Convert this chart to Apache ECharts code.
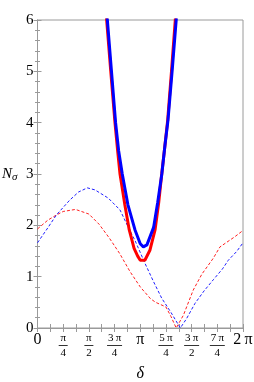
<!DOCTYPE html>
<html><head><meta charset="utf-8">
<script src="https://cdn.jsdelivr.net/npm/echarts@6/dist/echarts.min.js"></script>
<style>html,body{margin:0;padding:0;background:#fff}#c{width:254px;height:382px}</style>
</head><body><div id="c"></div>
<script>
// x values are in units of π (δ/π)
const xTickLabels = ['0', 'π/4', 'π/2', '3\u2009π/4', 'π', '5\u2009π/4', '3\u2009π/2', '7\u2009π/4', '2\u2009π'];
const yTickLabels = ['0', '1', '2', '3', '4', '5', '6'];

const redSolid = [[0.65,6.6],[0.673,6.0],[0.713,5.0],[0.754,4.0],[0.78,3.45],[0.803,3.0],[0.85,2.4],[0.893,1.91],[0.94,1.55],[0.975,1.4],[1.0,1.32],[1.045,1.32],[1.095,1.52],[1.144,1.91],[1.18,2.45],[1.209,3.0],[1.24,3.55],[1.267,4.05],[1.304,5.0],[1.341,6.0],[1.36,6.6]];
const blueSolid = [[0.66,6.6],[0.68,6.0],[0.72,5.0],[0.76,4.0],[0.79,3.45],[0.825,3.0],[0.88,2.4],[0.949,1.91],[1.0,1.64],[1.03,1.58],[1.065,1.62],[1.13,1.96],[1.17,2.45],[1.21,3.0],[1.24,3.55],[1.27,4.05],[1.31,5.0],[1.35,6.0],[1.37,6.6]];
const redDashed = [[0,1.93],[0.1,2.1],[0.183,2.2],[0.25,2.27],[0.37,2.31],[0.5,2.22],[0.6,2.02],[0.7,1.75],[0.8,1.45],[0.9,1.1],[1.0,0.8],[1.1,0.57],[1.15,0.5],[1.25,0.41],[1.3,0.22],[1.35,0.0],[1.42,0.25],[1.516,0.74],[1.6,1.05],[1.711,1.36],[1.776,1.58],[1.922,1.78],[1.987,1.88],[2.0,1.9]];
const blueDashed = [[0,1.66],[0.1,1.95],[0.183,2.2],[0.313,2.49],[0.4,2.65],[0.485,2.73],[0.56,2.69],[0.689,2.53],[0.803,2.30],[0.884,1.96],[0.95,1.7],[1.046,1.26],[1.13,0.9],[1.209,0.58],[1.3,0.3],[1.39,0.0],[1.45,0.18],[1.533,0.48],[1.62,0.72],[1.711,0.94],[1.8,1.15],[1.857,1.32],[1.938,1.49],[2.0,1.66]];

const FONT = "'Liberation Serif', 'DejaVu Serif', serif";
const GRAY = '#9a9a9a';

function xLabel(v) {
  const i = Math.round(v / 0.25);
  const s = xTickLabels[i];
  if (s === undefined) return '';
  if (s.indexOf('/') >= 0) {
    const p = s.split('/');
    const bar = p[0].length > 1 ? 'bw' : 'bn';
    return '{n|' + p[0] + '}\n{' + bar + '|}\n{d|' + p[1] + '}';
  }
  return '{big|' + s + '}';
}

const chart = echarts.init(document.getElementById('c'), null, {renderer: 'canvas'});
const tickStyle = {color: GRAY, width: 1};
chart.setOption({
  animation: false,
  backgroundColor: '#fff',
  grid: {left: 37.5, right: 11, top: 20, bottom: 54, show: true, borderColor: GRAY, borderWidth: 1,
    containLabel: false, outerBoundsMode: 'none'},
  xAxis: [{
    type: 'value', min: 0, max: 2, interval: 0.25,
    axisLine: {lineStyle: {color: GRAY}},
    axisTick: {inside: true, length: 4, lineStyle: tickStyle},
    minorTick: {show: true, splitNumber: 2, length: 4, lineStyle: tickStyle},
    splitLine: {show: false},
    axisLabel: {
      interval: 0, margin: 5, color: '#000', fontFamily: FONT,
      formatter: xLabel,
      rich: {
        n: {fontSize: 11, lineHeight: 11, fontFamily: FONT, align: 'center', color: '#000'},
        d: {fontSize: 11, lineHeight: 12, fontFamily: FONT, align: 'center', color: '#000'},
        bn: {width: 9, height: 1, lineHeight: 3, backgroundColor: '#333', align: 'center'},
        bw: {width: 15, height: 1, lineHeight: 3, backgroundColor: '#333', align: 'center'},
        big: {fontSize: 16, lineHeight: 14, fontFamily: FONT, align: 'center', color: '#000'}
      }
    },
    name: 'δ', nameLocation: 'middle', nameGap: 38,
    nameTextStyle: {fontFamily: FONT, fontStyle: 'italic', fontSize: 16, color: '#000'}
  }, {
    type: 'value', position: 'top', min: 0, max: 2, interval: 0.25,
    axisLine: {lineStyle: {color: GRAY}},
    axisTick: {inside: true, length: 4, lineStyle: tickStyle},
    minorTick: {show: true, splitNumber: 2, length: 4, lineStyle: tickStyle},
    splitLine: {show: false}, axisLabel: {show: false}
  }],
  yAxis: [{
    type: 'value', min: 0, max: 6, interval: 1,
    axisLine: {show: true, lineStyle: {color: GRAY}},
    axisTick: {show: true, inside: true, length: 4, lineStyle: tickStyle},
    minorTick: {show: true, splitNumber: 5, length: 2.5, lineStyle: tickStyle},
    splitLine: {show: false},
    axisLabel: {margin: 4, color: '#000', fontFamily: FONT, fontSize: 15,
      formatter: v => yTickLabels[Math.round(v)] || ''},
    name: '{n|N}{s|σ}', nameLocation: 'middle', nameRotate: 0, nameGap: 20,
    nameTextStyle: {rich: {
      n: {fontFamily: FONT, fontStyle: 'italic', fontSize: 15, color: '#000'},
      s: {fontFamily: FONT, fontStyle: 'italic', fontSize: 11, color: '#000', padding: [6, 0, 0, 0]}
    }}
  }, {
    type: 'value', position: 'right', min: 0, max: 6, interval: 1,
    axisLine: {show: true, lineStyle: {color: GRAY}},
    axisTick: {show: true, inside: true, length: 4, lineStyle: tickStyle},
    minorTick: {show: true, splitNumber: 5, length: 2.5, lineStyle: tickStyle},
    splitLine: {show: false}, axisLabel: {show: false}
  }],
  series: [
    {type: 'line', data: redDashed, showSymbol: false, symbol: 'none', lineStyle: {color: '#ff2020', width: 1, type: [3, 2]}, z: 2},
    {type: 'line', data: blueDashed, showSymbol: false, symbol: 'none', lineStyle: {color: '#2020ff', width: 1, type: [3, 2]}, z: 2},
    {type: 'line', data: redSolid, showSymbol: false, symbol: 'none', lineStyle: {color: '#ff0000', width: 3}, z: 3},
    {type: 'line', data: blueSolid, showSymbol: false, symbol: 'none', lineStyle: {color: '#0000ff', width: 3}, z: 4}
  ]
});
</script>
</body></html>
